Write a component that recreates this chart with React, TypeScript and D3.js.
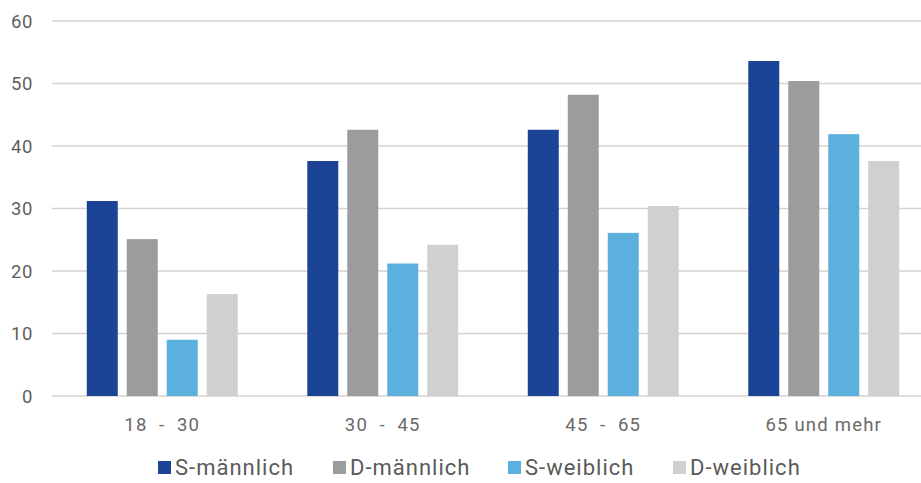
import React from "react";
import * as d3 from "d3";

// Age groups and the four series plotted for each of them
const categories = ["18  -  30", "30  -  45", "45  -  65", "65 und mehr"];
const seriesNames = ["S-männlich", "D-männlich", "S-weiblich", "D-weiblich"];
const sMaennlich = [31.2, 37.6, 42.6, 53.6];
const dMaennlich = [25.1, 42.6, 48.2, 50.4];
const sWeiblich = [9.0, 21.2, 26.1, 41.9];
const dWeiblich = [16.3, 24.2, 30.4, 37.6];
const yTicks = [0, 10, 20, 30, 40, 50, 60];

const seriesValues = [sMaennlich, dMaennlich, sWeiblich, dWeiblich];
const seriesColors = ["#1b4497", "#9a9c9d", "#5cb0de", "#cfd0d1"];

const W = 921;
const H = 483;

export default function App() {
  const x0 = d3.scaleBand<string>().domain(categories).range([52, 934]).paddingInner(0).paddingOuter(0);
  const x1 = d3
    .scaleBand<string>()
    .domain(seriesNames)
    .range([0, x0.bandwidth()])
    .paddingInner(0.225)
    .paddingOuter(0.87);
  const y = d3.scaleLinear().domain([0, 60]).range([396, 21]);

  const font = "Roboto, 'Open Sans', sans-serif";

  // legend layout: colored square followed by label
  const legendStarts = [158, 333, 508, 673];

  return (
    <svg
      width={W}
      height={H}
      style={{ position: "absolute", left: 0, top: 0, background: "#fff" }}
      fontFamily={font}
    >
      <rect x={0} y={0} width={W} height={H} fill="#ffffff" />
      {/* horizontal grid */}
      {yTicks.map((t) => (
        <g key={t}>
          <line x1={52} x2={W} y1={y(t)} y2={y(t)} stroke="#dad1cc" strokeWidth={1.4} />
          <text x={33} y={y(t)} dy="0.36em" textAnchor="end" fontSize={18.5} fill="#5f5f5f" letterSpacing={0.6}>
            {t}
          </text>
        </g>
      ))}
      {/* bars */}
      {categories.map((c, ci) => (
        <g key={c} transform={`translate(${x0(c)},0)`}>
          {seriesNames.map((s, si) => {
            const v = seriesValues[si][ci];
            return (
              <rect
                key={s}
                x={x1(s)}
                y={y(v)}
                width={x1.bandwidth()}
                height={y(0) - y(v)}
                fill={seriesColors[si]}
              />
            );
          })}
          <text
            x={x0.bandwidth() / 2}
            y={424}
            dy="0.36em"
            textAnchor="middle"
            fontSize={18.5}
            fill="#6a6a6a"
            letterSpacing={1.2}
            style={{ whiteSpace: "pre" }}
          >
            {c}
          </text>
        </g>
      ))}
      {/* legend */}
      {seriesNames.map((s, si) => (
        <g key={s} transform={`translate(${legendStarts[si]},467)`}>
          <rect x={0} y={-6} width={13} height={13} fill={seriesColors[si]} />
          <text x={17} y={0} dy="0.36em" fontSize={22} fill="#5a5a5a" letterSpacing={1}>
            {s}
          </text>
        </g>
      ))}
    </svg>
  );
}
